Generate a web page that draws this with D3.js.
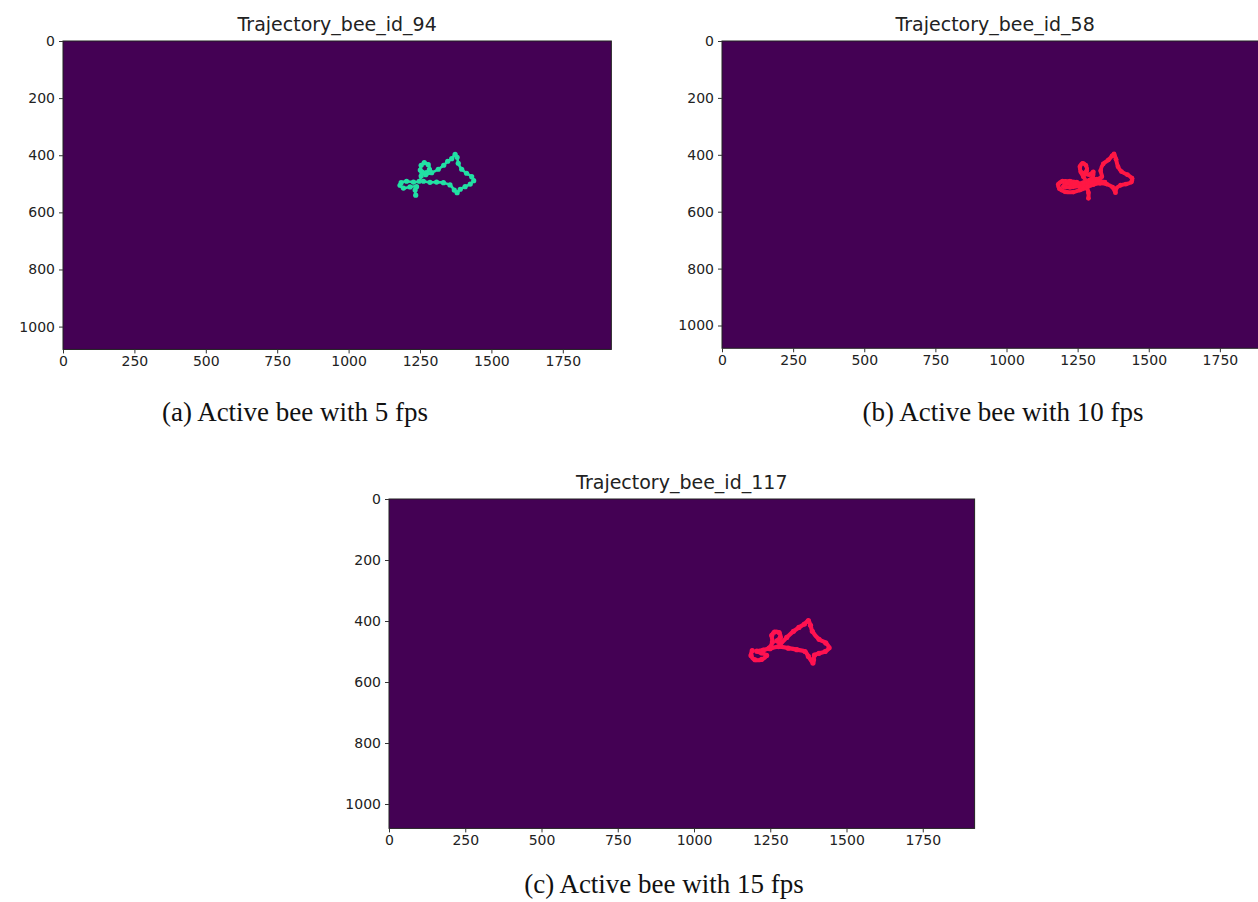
<!DOCTYPE html>
<html>
<head>
<meta charset="utf-8">
<script src="https://cdn.jsdelivr.net/npm/d3@7"></script>
<style>
  body { margin: 0; background: #fff; }
  svg { display: block; }
  .tick text { font-family: "DejaVu Sans", sans-serif; font-size: 14px; fill: #222; }
  .title { font-family: "DejaVu Sans", sans-serif; font-size: 19px; fill: #222; }
  .caption { font-family: "Liberation Serif", "Times New Roman", serif; font-size: 27px; fill: #111; }
</style>
</head>
<body>
<div id="container"></div>
<script>
// frame size of the video (pixels)
const frameWidth = 1920;
const frameHeight = 1080;

const xTicks = [0, 250, 500, 750, 1000, 1250, 1500, 1750];
const yTicks = [0, 200, 400, 600, 800, 1000];

const titles = ["Trajectory_bee_id_94", "Trajectory_bee_id_58", "Trajectory_bee_id_117"];
const captions = ["(a) Active bee with 5 fps", "(b) Active bee with 10 fps", "(c) Active bee with 15 fps"];

// trajectory points [x, y]
const trajA = [
  [1235, 540], [1233, 522], [1238, 510], [1215, 511], [1192, 515], [1180, 505], [1184, 496],
  [1203, 491], [1227, 494], [1247, 491], [1254, 473], [1251, 452], [1254, 435], [1265, 426],
  [1279, 433], [1283, 449], [1272, 461], [1258, 459], [1270, 468], [1291, 461], [1314, 449],
  [1333, 435], [1347, 421], [1361, 412], [1373, 397], [1380, 407], [1384, 428], [1396, 449],
  [1413, 463], [1431, 475], [1438, 489], [1426, 501], [1408, 510], [1391, 519], [1380, 531],
  [1370, 522], [1355, 504], [1332, 496], [1308, 494], [1285, 495], [1262, 491]
];

const trajB = [
  [1288, 553], [1288, 533], [1282, 518], [1258, 524], [1235, 531], [1206, 530], [1186, 519],
  [1182, 504], [1197, 493], [1223, 493], [1247, 496], [1264, 503], [1279, 493], [1270, 477],
  [1261, 460], [1258, 442], [1268, 430], [1279, 437], [1282, 456], [1272, 465], [1291, 470],
  [1305, 460], [1303, 479], [1291, 489], [1317, 486], [1335, 477], [1331, 456], [1340, 432],
  [1358, 418], [1371, 404], [1378, 397], [1385, 416], [1392, 442], [1404, 459], [1425, 470],
  [1441, 482], [1439, 496], [1420, 503], [1401, 507], [1385, 519], [1383, 533], [1373, 514],
  [1352, 503], [1329, 500], [1305, 505], [1284, 512], [1256, 510], [1223, 514], [1200, 512],
  [1212, 500], [1241, 503], [1270, 498], [1299, 498], [1323, 491], [1346, 496]
];

const trajC = [
  [1191, 497], [1187, 513], [1200, 527], [1222, 526], [1238, 513], [1222, 505], [1206, 499],
  [1227, 495], [1246, 489], [1257, 469], [1255, 447], [1264, 436], [1279, 438], [1283, 454],
  [1272, 465], [1285, 471], [1304, 454], [1326, 434], [1344, 421], [1362, 410], [1375, 399],
  [1382, 414], [1388, 434], [1410, 460], [1432, 472], [1443, 488], [1430, 500], [1410, 506],
  [1395, 512], [1392, 527], [1390, 538], [1375, 516], [1364, 500], [1337, 494], [1309, 489],
  [1277, 484], [1249, 491]
];

const svg = d3.select("#container").append("svg")
  .attr("width", 1258)
  .attr("height", 902);

function drawPanel(opt) {
  const w = frameWidth * opt.scale;
  const h = frameHeight * opt.scale;
  const g = svg.append("g").attr("transform", `translate(${opt.left},${opt.top})`);

  const x = d3.scaleLinear().domain([0, frameWidth]).range([0, w]);
  const y = d3.scaleLinear().domain([0, frameHeight]).range([0, h]);

  // image background
  g.append("rect")
    .attr("width", w).attr("height", h)
    .attr("fill", "#440154")
    .attr("stroke", "#222").attr("stroke-width", 1);

  const line = d3.line().x(d => x(d[0])).y(d => y(d[1])).curve(d3.curveCatmullRom);
  g.append("path")
    .datum(opt.data)
    .attr("d", line)
    .attr("fill", "none")
    .attr("stroke", opt.color)
    .attr("stroke-width", opt.lineWidth)
    .attr("stroke-linejoin", "round")
    .attr("stroke-linecap", "round");

  g.selectAll("circle.pt")
    .data(opt.data)
    .enter().append("circle")
    .attr("class", "pt")
    .attr("cx", d => x(d[0]))
    .attr("cy", d => y(d[1]))
    .attr("r", opt.dot)
    .attr("fill", opt.color);

  // axes
  g.append("g")
    .attr("transform", `translate(0,${h})`)
    .call(d3.axisBottom(x).tickValues(xTicks).tickFormat(d3.format("d")).tickSize(4).tickPadding(3))
    .call(a => a.select(".domain").remove())
    .call(a => a.selectAll("line").attr("stroke", "#333"));

  g.append("g")
    .call(d3.axisLeft(y).tickValues(yTicks).tickFormat(d3.format("d")).tickSize(4).tickPadding(4))
    .call(a => a.select(".domain").remove())
    .call(a => a.selectAll("line").attr("stroke", "#333"));

  g.append("text")
    .attr("class", "title")
    .attr("x", w / 2)
    .attr("y", -10)
    .attr("text-anchor", "middle")
    .text(opt.title);

  svg.append("text")
    .attr("class", "caption")
    .attr("x", opt.capX)
    .attr("y", opt.capY)
    .attr("text-anchor", "middle")
    .text(opt.caption);
}

drawPanel({ left: 63, top: 41, scale: 0.2856, data: trajA, color: "#22e0a4", lineWidth: 2.6, dot: 2.6,
  title: titles[0], caption: captions[0], capX: 295, capY: 421 });
drawPanel({ left: 722, top: 41, scale: 0.2845, data: trajB, color: "#ff1744", lineWidth: 4, dot: 2.4,
  title: titles[1], caption: captions[1], capX: 1003, capY: 421 });
drawPanel({ left: 389, top: 499, scale: 0.305, data: trajC, color: "#ff1250", lineWidth: 4.2, dot: 2.6,
  title: titles[2], caption: captions[2], capX: 664, capY: 893 });
</script>
</body>
</html>
